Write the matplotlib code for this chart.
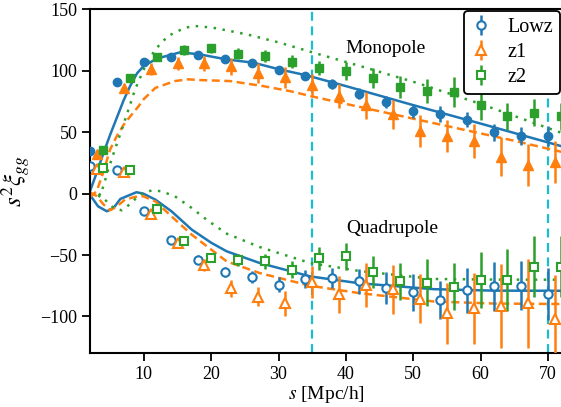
import matplotlib
matplotlib.use("Agg")
import matplotlib.pyplot as plt
import numpy as np

plt.rcParams['font.family'] = ['Liberation Serif', 'DejaVu Serif']
plt.rcParams['mathtext.fontset'] = 'stix'

# ---------------- data ----------------
# Lowz (x = 2,6,...,70), z1 (x = 3,7,...,71), z2 (x = 4,8,...,72)
s_lowz = [2, 6, 10, 14, 18, 22, 26, 30, 34, 38, 42, 46, 50, 54, 58, 62, 66, 70]
s_z1 = [3, 7, 11, 15, 19, 23, 27, 31, 35, 39, 43, 47, 51, 55, 59, 63, 67, 71]
s_z2 = [4, 8, 12, 16, 20, 24, 28, 32, 36, 40, 44, 48, 52, 56, 60, 64, 68, 72]

mono_lowz = [34.5, 90.7, 107.3, 111.4, 113.0, 109.2, 106.3, 101.0, 95.6, 88.9, 81.3, 74.4, 67.1, 65.0, 60.3, 50.0, 47.0, 46.7]
mono_lowz_err = [2, 2, 2, 2, 2.5, 2.5, 3, 3, 3.5, 4, 4.5, 5, 5.5, 6.5, 6.5, 7, 7.5, 8]
mono_z1 = [32.6, 85.6, 101.6, 106.0, 106.0, 103.6, 98.0, 94.5, 88.0, 79.3, 71.7, 64.4, 50.8, 46.7, 42.6, 30.0, 23.0, 26.0]
mono_z1_err = [3, 4, 5, 5.5, 6, 7, 8, 8.5, 9, 10, 11, 12, 13, 13, 14, 16, 17, 17]
mono_z2 = [35.1, 93.8, 111.2, 116.6, 118.1, 114.0, 112.0, 107.4, 102.4, 99.7, 94.3, 87.0, 83.4, 82.6, 72.0, 63.0, 65.8, 63.0]
mono_z2_err = [2, 3, 3.5, 4, 4, 4.5, 5, 5, 5.5, 7, 8, 9, 10, 12, 12, 11, 11, 11]

quad_lowz = [22.3, 19.0, -14.4, -38.1, -53.8, -63.9, -68.0, -74.3, -69.6, -68.8, -71.5, -77.0, -80.5, -86.5, -78.8, -75.6, -75.0, -81.5]
quad_lowz_err = [2, 2, 2.5, 3, 3.5, 4, 5, 6, 7, 8, 10, 13, 15, 15.5, 18, 20, 20, 21]
quad_z1 = [20.4, 17.7, -16.6, -40.2, -57.9, -77.0, -83.8, -89.3, -72.3, -81.8, -74.3, -77.8, -85.7, -97.4, -93.3, -91.4, -89.3, -102.2]
quad_z1_err = [3, 3, 3.5, 4, 5, 7, 8, 10, 13, 15, 18, 20, 20, 25, 29, 34, 36, 36]
quad_z2 = [21.0, 19.6, -12.3, -38.9, -52.5, -53.8, -55.2, -62.0, -52.8, -51.0, -63.7, -71.3, -72.6, -75.9, -70.2, -70.2, -59.4, -59.4]
quad_z2_err = [2, 2, 2.5, 3, 3.5, 5, 6, 7, 9, 11, 13, 15, 19, 19, 23, 25, 25, 25]

# model curves
m_lowz_s = [2.0, 3.0, 4.0, 5.0, 6.0, 7.0, 8.0, 9.0, 10.0, 12.0, 15.4, 18.3, 22.3, 26.3, 30.2, 34.2, 40, 50, 60, 72]
m_lowz_v = [2.0, 17.0, 33.0, 48.0, 62.0, 76.0, 88.0, 98.0, 104.0, 110.0, 115.0, 113.3, 109.2, 106.5, 101.0, 96.2, 87.5, 72.0, 57.0, 38.6]
m_z1_s = [2.0, 3.0, 4.0, 5.0, 6.0, 7.0, 8.0, 9.2, 10.0, 11.7, 14.6, 16.6, 18.3, 22.8, 27.7, 31.7, 35.2, 45, 55, 65, 72]
m_z1_v = [-3.0, 2.0, 18.0, 36.0, 47.0, 56.0, 63.0, 71.0, 77.0, 86.0, 91.6, 93.0, 92.4, 91.6, 87.5, 83.4, 78.8, 67.0, 55.0, 43.0, 34.0]
m_z2_s = [3.3, 4.0, 4.7, 5.7, 6.9, 8.7, 10.2, 11.7, 13.6, 16.1, 17.6, 20.3, 25.3, 30.2, 35.2, 42, 50.5, 60, 72]
m_z2_v = [-3.0, 6.0, 19.6, 35.9, 55.0, 84.8, 103.8, 117.4, 128.3, 135.0, 136.4, 135.0, 129.6, 122.8, 114.7, 104.0, 90.2, 73.0, 49.5]

q_lowz_s = [2.0, 3.2, 4.5, 5.5, 6.5, 7.7, 8.9, 9.9, 11.7, 14.1, 17.1, 20.0, 22.3, 27.2, 34.7, 42, 53, 62, 72]
q_lowz_v = [-1.0, -10.4, -14.4, -11.7, -4.4, -1.6, 1.1, 0.0, -4.9, -14.4, -29.3, -40.0, -47.0, -56.5, -67.4, -73.0, -77.8, -79.0, -79.1]
q_z1_s = [2.0, 3.0, 4.0, 5.0, 6.0, 7.2, 8.7, 9.9, 11.7, 14.1, 17.1, 22.3, 27.2, 34.7, 42, 53, 62, 72]
q_z1_v = [1.0, -2.0, -8.8, -13.6, -10.4, -4.9, -2.7, -2.2, -6.3, -18.5, -33.4, -55.2, -64.7, -75.0, -81.0, -87.8, -89.5, -89.9]
q_z2_s = [3.3, 4.2, 5.5, 6.7, 7.9, 9.4, 11.2, 12.6, 14.6, 17.1, 19.5, 22.3, 27.2, 34.7, 42, 53, 62, 72]
q_z2_v = [0.0, -4.9, -11.7, -13.6, -8.8, -0.8, 2.7, 1.9, -2.2, -11.7, -22.0, -32.6, -43.5, -56.5, -63.0, -69.5, -70.0, -70.1]

vlines = [35, 70]
labels = ['Lowz', 'z1', 'z2']
colors = ['#1f77b4', '#ff7f0e', '#2ca02c']
markers = ['o', '^', 's']

# ---------------- figure ----------------
W, H = 561, 407
fig = plt.figure(figsize=(W / 100, H / 100), dpi=100)
xmin, xmax = 2, 72.2
ymin, ymax = -130, 150
left_px, right_px = 90, 90 + (xmax - xmin) * 6.733
top_px, bot_px = 9.3, 353.3
ax = fig.add_axes([left_px / W, (H - bot_px) / H, (right_px - left_px) / W, (bot_px - top_px) / H])

ss = [s_lowz, s_z1, s_z2]
monos = [mono_lowz, mono_z1, mono_z2]
mono_errs = [mono_lowz_err, mono_z1_err, mono_z2_err]
quads = [quad_lowz, quad_z1, quad_z2]
quad_errs = [quad_lowz_err, quad_z1_err, quad_z2_err]
ms_list = [[m_lowz_s, m_lowz_v], [m_z1_s, m_z1_v], [m_z2_s, m_z2_v]]
qs_list = [[q_lowz_s, q_lowz_v], [q_z1_s, q_z1_v], [q_z2_s, q_z2_v]]
styles = ['-', (0, (3.2, 1.8)), (0, (1, 2.6))]
msz = [6, 7, 6]

handles = []
for i in range(3):
    ax.plot(ms_list[i][0], ms_list[i][1], color=colors[i], ls=styles[i], lw=1.8, zorder=2)
    ax.plot(qs_list[i][0], qs_list[i][1], color=colors[i], ls=styles[i], lw=1.8, zorder=2)
    ax.errorbar(ss[i], monos[i], yerr=mono_errs[i], fmt=markers[i], color=colors[i],
                ms=msz[i], elinewidth=1.8, capsize=0, zorder=3)
    h = ax.errorbar(ss[i], quads[i], yerr=quad_errs[i], fmt=markers[i], color=colors[i],
                    mfc='white', mec=colors[i], mew=1.5, ms=msz[i], elinewidth=1.8,
                    capsize=0, zorder=3)
    handles.append(h)

for v in vlines:
    ax.axvline(v, color='#17becf', ls=(0, (4, 2.5)), lw=1.6, zorder=1)

ax.set_xlim(xmin, xmax)
ax.set_ylim(ymin, ymax)
ax.set_xticks([10, 20, 30, 40, 50, 60, 70])
ax.set_yticks([-100, -50, 0, 50, 100, 150])
ax.tick_params(direction='out', length=6, width=1.3, labelsize=13, top=False, right=False, pad=3)
for sp in ax.spines.values():
    sp.set_linewidth(1.5)
ax.spines['right'].set_visible(False)

ax.set_xlabel(r'$s$ [Mpc/h]', fontsize=14, labelpad=1)
ax.set_ylabel(r'$s^2\xi_{gg}$', fontsize=18, labelpad=6)

ax.text(40, 118.5, 'Monopole', fontsize=14, ha='left', va='center')
ax.text(40, -28.3, 'Quadrupole', fontsize=14, ha='left', va='center')

leg = ax.legend(handles, labels, loc='upper right', bbox_to_anchor=(560 / W, (H - 11) / H),
                bbox_transform=fig.transFigure, fontsize=14.5, frameon=True, fancybox=True,
                handlelength=1.0, handletextpad=0.8, borderpad=0.35, labelspacing=0.3,
                borderaxespad=0)
leg.get_frame().set_edgecolor('black')
leg.get_frame().set_linewidth(1.3)
leg.get_frame().set_alpha(1)

fig.savefig('out.png', dpi=100)
